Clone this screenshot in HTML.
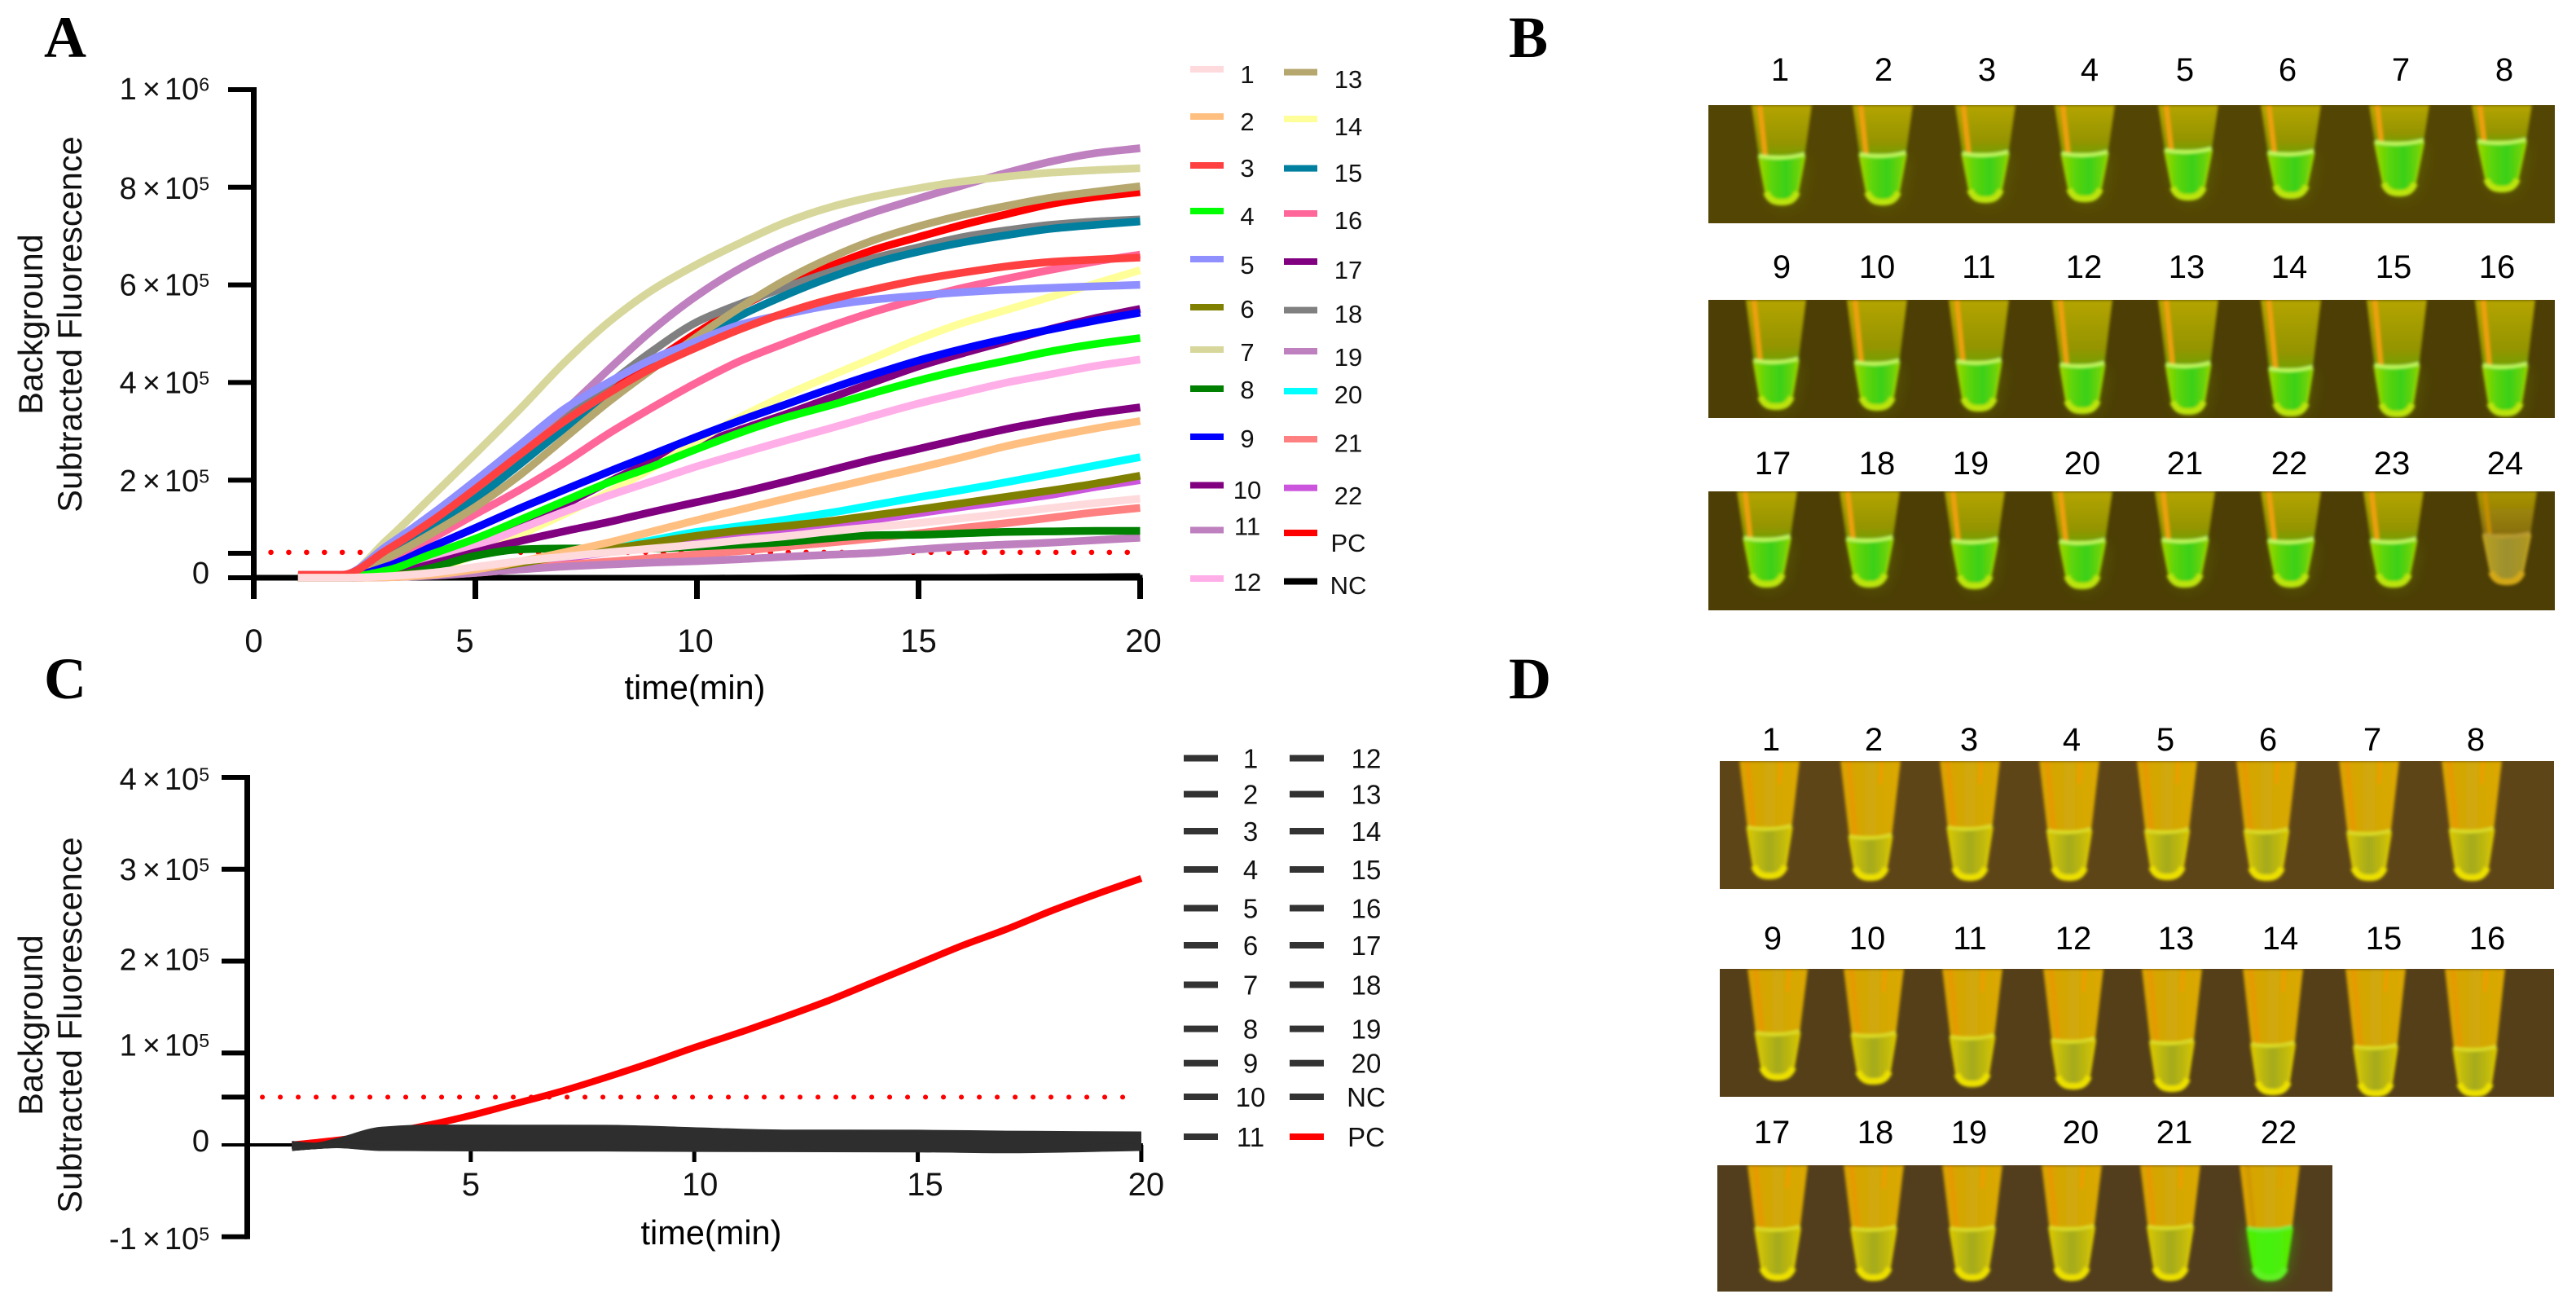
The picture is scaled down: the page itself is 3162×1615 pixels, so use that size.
<!DOCTYPE html>
<html lang="en">
<head>
<meta charset="utf-8">
<title>Fluorescence curves and tube images</title>
<style>
html,body{margin:0;padding:0;background:#fff;}
svg{display:block;font-family:"Liberation Sans",Arial,sans-serif;}
.ltr{font-family:"Liberation Serif","Times New Roman",serif;font-weight:bold;font-size:72px;fill:#000;}
.ttl{font-size:41.5px;fill:#111;text-anchor:middle;}
.tl{font-size:40px;fill:#000;text-anchor:middle;}
.xl{font-size:41.5px;fill:#000;text-anchor:middle;}
</style>
</head>
<body>
<svg id="fig" width="3162" height="1615" viewBox="0 0 3162 1615" xmlns="http://www.w3.org/2000/svg">
<defs>
<filter id="soft" x="-20%" y="-20%" width="140%" height="140%"><feGaussianBlur stdDeviation="1.8"/></filter>
<filter id="glow" x="-60%" y="-60%" width="220%" height="220%"><feGaussianBlur stdDeviation="10"/></filter>
<linearGradient id="liqB" x1="0" x2="1" y1="0" y2="0"><stop offset="0" stop-color="#9cd800"/><stop offset=".28" stop-color="#5cd408"/><stop offset=".6" stop-color="#3ad018"/><stop offset="1" stop-color="#84d400"/></linearGradient>
<linearGradient id="upB" x1="0" x2="0" y1="0" y2="1"><stop offset="0" stop-color="#b4a400"/><stop offset=".75" stop-color="#949400"/><stop offset="1" stop-color="#74a000"/></linearGradient>
<linearGradient id="liqDim" x1="0" x2="1" y1="0" y2="0"><stop offset="0" stop-color="#b8a020"/><stop offset=".5" stop-color="#9c9030"/><stop offset="1" stop-color="#b09820"/></linearGradient>
<linearGradient id="upDim" x1="0" x2="0" y1="0" y2="1"><stop offset="0" stop-color="#a89400"/><stop offset="1" stop-color="#886e10"/></linearGradient>
<linearGradient id="liqD" x1="0" x2="1" y1="0" y2="0"><stop offset="0" stop-color="#d8c800"/><stop offset=".5" stop-color="#a4aa1c"/><stop offset="1" stop-color="#d4c400"/></linearGradient>
<linearGradient id="upD" x1="0" x2="1" y1="0" y2="0"><stop offset="0" stop-color="#dca200"/><stop offset=".5" stop-color="#d0a808"/><stop offset="1" stop-color="#dca800"/></linearGradient>
<linearGradient id="liqG" x1="0" x2="1" y1="0" y2="0"><stop offset="0" stop-color="#50ee00"/><stop offset=".5" stop-color="#44f210"/><stop offset="1" stop-color="#58ea00"/></linearGradient>
</defs>
<rect x="0" y="0" width="3162" height="1615" fill="#fff"/>

<text class="ltr" x="54" y="70">A</text>
<text class="ltr" x="1852" y="70">B</text>
<text class="ltr" x="54" y="857">C</text>
<text class="ltr" x="1852" y="857">D</text>

<g id="chartA"></g>
<text class="ttl" transform="translate(52,398) rotate(-90)">Background</text>
<text class="ttl" transform="translate(100,398) rotate(-90)">Subtracted Fluorescence</text>
<text class="xl" x="853" y="858">time(min)</text>

<g id="chartC"></g>
<text class="ttl" transform="translate(52,1258) rotate(-90)">Background</text>
<text class="ttl" transform="translate(100,1258) rotate(-90)">Subtracted Fluorescence</text>
<text class="xl" x="873" y="1527">time(min)</text>

<g id="tubes"></g>

<g>
<text class="tl" x="2185" y="99">1</text>
<text class="tl" x="2312" y="99">2</text>
<text class="tl" x="2439" y="99">3</text>
<text class="tl" x="2565" y="99">4</text>
<text class="tl" x="2682" y="99">5</text>
<text class="tl" x="2808" y="99">6</text>
<text class="tl" x="2947" y="99">7</text>
<text class="tl" x="3074" y="99">8</text>
<text class="tl" x="2187" y="341">9</text>
<text class="tl" x="2304" y="341">10</text>
<text class="tl" x="2429" y="341">11</text>
<text class="tl" x="2558" y="341">12</text>
<text class="tl" x="2684" y="341">13</text>
<text class="tl" x="2810" y="341">14</text>
<text class="tl" x="2938" y="341">15</text>
<text class="tl" x="3065" y="341">16</text>
<text class="tl" x="2176" y="582">17</text>
<text class="tl" x="2304" y="582">18</text>
<text class="tl" x="2419" y="582">19</text>
<text class="tl" x="2556" y="582">20</text>
<text class="tl" x="2682" y="582">21</text>
<text class="tl" x="2810" y="582">22</text>
<text class="tl" x="2936" y="582">23</text>
<text class="tl" x="3075" y="582">24</text>
</g>
<g>
<text class="tl" x="2174" y="921">1</text>
<text class="tl" x="2300" y="921">2</text>
<text class="tl" x="2417" y="921">3</text>
<text class="tl" x="2543" y="921">4</text>
<text class="tl" x="2658" y="921">5</text>
<text class="tl" x="2784" y="921">6</text>
<text class="tl" x="2912" y="921">7</text>
<text class="tl" x="3039" y="921">8</text>
<text class="tl" x="2176" y="1165">9</text>
<text class="tl" x="2292" y="1165">10</text>
<text class="tl" x="2418" y="1165">11</text>
<text class="tl" x="2545" y="1165">12</text>
<text class="tl" x="2671" y="1165">13</text>
<text class="tl" x="2799" y="1165">14</text>
<text class="tl" x="2926" y="1165">15</text>
<text class="tl" x="3053" y="1165">16</text>
<text class="tl" x="2175" y="1403">17</text>
<text class="tl" x="2302" y="1403">18</text>
<text class="tl" x="2417" y="1403">19</text>
<text class="tl" x="2554" y="1403">20</text>
<text class="tl" x="2669" y="1403">21</text>
<text class="tl" x="2797" y="1403">22</text>
</g>
</svg>

<script>
/* ---------- Chart A data (values in thousands of fluorescence units) ---------- */
const timeA = [1,2,3,4,5,6,7,8,9,10,11,12,13,14,15,16,17,18,19,20];
const a1  = [0,0,3,10,22,34,43,52,60,68,77,85,95,104,112,122,132,143,153,162];
const a2  = [0,0,1,6,17,33,52,72,95,118,140,162,183,204,225,247,270,289,306,321];
const a3  = [6,6,57,115,182,252,320,378,430,472,510,543,570,591,610,625,638,647,652,656];
const a4  = [1,1,15,48,80,118,157,195,228,264,298,328,353,379,404,426,445,464,479,491];
const a5  = [6,6,65,129,199,272,345,400,448,485,519,540,558,570,578,585,590,594,597,600];
const a6  = [1,1,4,10,18,30,45,58,72,86,97,106,116,128,140,153,166,179,193,209];
const a7  = [1,2,77,165,254,345,440,523,590,642,687,728,759,781,798,812,822,830,835,839];
const a8  = [0,0,3,20,45,58,60,60,60,64,68,73,81,87,88,91,94,95,96,96];
const a9  = [1,1,23,63,102,142,180,217,253,289,323,355,387,417,445,469,490,509,527,543];
const a10 = [1,1,6,28,52,75,95,114,135,155,175,197,220,243,264,285,305,322,337,349];
const a11 = [0,0,1,4,10,17,23,27,31,34,38,43,47,51,58,64,68,72,77,82];
const a12 = [1,1,8,35,64,100,135,168,198,228,255,281,306,332,357,379,400,417,434,447];
const a13 = [2,2,40,90,145,210,285,360,428,494,555,610,655,692,720,743,762,779,791,802];
const a14 = [1,1,4,17,47,88,130,175,225,280,330,374,413,451,489,522,549,576,603,630];
const a15 = [2,2,47,102,162,232,305,370,430,487,538,579,615,645,668,687,702,715,723,730];
const a16 = [2,2,35,80,130,180,235,295,349,400,445,481,515,545,571,594,613,631,648,662];
const a17 = [1,1,8,35,65,102,149,196,238,272,304,335,368,401,433,460,485,510,532,551];
const a18 = [2,2,50,120,180,247,323,396,465,524,562,595,626,655,677,698,712,723,730,734];
const a19 = [2,2,45,115,185,258,340,426,508,578,635,680,717,749,777,804,830,853,870,880];
const a20 = [0,0,2,7,17,30,47,60,77,94,106,119,133,149,165,180,196,213,230,247];
const a21 = [0,0,1,5,10,18,26,33,40,48,55,64,72,81,91,102,112,123,134,143];
const a22 = [0,0,2,7,16,27,40,52,62,72,82,94,106,119,132,145,157,170,186,200];
const aPC = [3,3,40,108,175,245,312,379,441,502,556,600,638,672,698,723,745,766,780,790];
const aNC = [0,0,0,0,0,0,0,0,0,0,0.5,0.5,1,1,1.5,1.5,2,2.5,3,3.5];
const namesA = ['1','2','3','4','5','6','7','8','9','10','11','12','13','14','15','16','17','18','19','20','21','22','PC','NC'];
const valuesA = [a1,a2,a3,a4,a5,a6,a7,a8,a9,a10,a11,a12,a13,a14,a15,a16,a17,a18,a19,a20,a21,a22,aPC,aNC];
const colorsA = ['#ffdadd','#ffbf80','#ff4040','#00ff00','#8f8fff','#808000','#d7d79b','#008000','#0000ff','#800080','#bf80bf','#ffaee8','#b5a76e','#ffff99','#007f9f','#ff6699','#800080','#808080','#bf80bf','#00ffff','#ff8080','#cc55dd','#ff0000','#000000'];
const xTicksA = [0,5,10,15,20];
const yTicksA = [0,50,200,400,600,800,1000];
const yLabelsA = [[0,'0'],[200,'2','5'],[400,'4','5'],[600,'6','5'],[800,'8','5'],[1000,'1','6']];
const thresholdA = [52];

/* ---------- Chart C data (values in thousands) ---------- */
const timeC = [1,1.5,2,3,4,6,8,10,12,15,17,20];
const c1  = [1.7,-0.2,4.6,17,19.4,19.3,19.2,16.5,14,13.8,12.8,12];
const c2  = [-4,-2,-0.9,-4,-4.2,-4.5,-4.5,-5,-5.2,-5.5,-6.5,-4];
const c3  = [1,-0.4,4,15,18,18,17,15,13,13,12,11];
const c4  = [0.5,-0.6,3.5,13,16,16,15,14,12,12,11,10];
const c5  = [0,-0.8,3,12,14.5,14,13.5,13,11,11,10,9.5];
const c6  = [-0.5,-1,2.5,10,13,12.5,12,11.5,10,10,9,8.5];
const c7  = [-1,-1.1,2,8,11,11,10.5,10,9,9,8,8];
const c8  = [-1.3,-1.2,1.7,7,9.5,9.5,9,9,8,8,7,7];
const c9  = [-1.6,-1.3,1.4,5.5,8,8,8,7.5,7,7,6,6];
const c10 = [-1.9,-1.4,1.1,4,6.5,6.5,6.5,6.5,6,6,5,5];
const c11 = [-2.2,-1.5,0.8,3,5,5.5,5.5,5,5,5,4,4];
const c12 = [-2.5,-1.6,0.5,2,3.5,4,4,4,3.5,4,3,3];
const c13 = [-2.8,-1.7,0.3,1,2.5,2.5,2.5,2.5,2.5,2.5,2,2];
const c14 = [-3,-1.7,0.1,0,1.5,1.5,1.5,1.5,1.5,1.5,1,1];
const c15 = [-3.2,-1.8,-0.1,-1,0.5,0.5,0.5,0.5,0.5,0.5,0,0];
const c16 = [-3.4,-1.8,-0.3,-1.5,-0.5,-0.5,-0.5,-0.5,-0.5,-0.5,-1,-1];
const c17 = [-3.5,-1.9,-0.4,-2,-1.5,-1.5,-1.5,-1.5,-1.5,-1.5,-2,-1.5];
const c18 = [-3.6,-1.9,-0.5,-2.5,-2,-2.5,-2.5,-2.5,-2.5,-2.5,-3,-2];
const c19 = [-3.7,-1.9,-0.6,-3,-2.5,-3,-3,-3.5,-3.5,-3.5,-4,-2.5];
const c20 = [-3.8,-2,-0.7,-3.3,-3,-3.5,-3.5,-4,-4,-4.5,-5,-3];
const cNC = [-3.9,-2,-0.8,-3.6,-3.6,-4,-4,-4.5,-4.6,-5,-5.7,-3.5];
const valuesC = [c1,c2,c3,c4,c5,c6,c7,c8,c9,c10,c11,c12,c13,c14,c15,c16,c17,c18,c19,c20,cNC];
const timePC = [1,2,3,4,5,6,7,8,9,10,11,12,13,14,15,16,17,18,19,20];
const cPC = [0,5,12,21,32,45,58,73,89,106,122,139,157,177,197,217,235,255,273,290];
const xTicksC = [5,10,15,20];
const yTicksC = [-100,0,52,100,200,300,400];
const yLabelsC = [[-100,'-1','5'],[0,'0'],[100,'1','5'],[200,'2','5'],[300,'3','5'],[400,'4','5']];
const thresholdC = [52];
const namesC = ['1','2','3','4','5','6','7','8','9','10','11','12','13','14','15','16','17','18','19','20','NC','PC'];

/* ---------- helpers ---------- */
const NS = 'http://www.w3.org/2000/svg';
function mk(tag, attrs, parent) {
  const e = document.createElementNS(NS, tag);
  for (const k in attrs) e.setAttribute(k, attrs[k]);
  parent.appendChild(e);
  return e;
}
/* monotone cubic path through the data points */
function linePath(ts, vs, xf, yf) {
  const xs = ts.map(xf), ys = vs.map(yf), n = xs.length;
  const dx = [], m = [], tan = [];
  for (let i = 0; i < n - 1; i++) { dx[i] = xs[i + 1] - xs[i]; m[i] = (ys[i + 1] - ys[i]) / dx[i]; }
  tan[0] = m[0]; tan[n - 1] = m[n - 2];
  for (let i = 1; i < n - 1; i++) {
    tan[i] = m[i - 1] * m[i] <= 0 ? 0 : 2 * m[i - 1] * m[i] / (m[i - 1] + m[i]);
  }
  let d = 'M' + xs[0].toFixed(1) + ' ' + ys[0].toFixed(1);
  for (let i = 0; i < n - 1; i++) {
    const h = dx[i] / 3;
    d += ' C' + (xs[i] + h).toFixed(1) + ' ' + (ys[i] + tan[i] * h).toFixed(1) + ' ' +
         (xs[i + 1] - h).toFixed(1) + ' ' + (ys[i + 1] - tan[i + 1] * h).toFixed(1) + ' ' +
         xs[i + 1].toFixed(1) + ' ' + ys[i + 1].toFixed(1);
  }
  return d;
}
function yTickLabel(parent, x, y, base, sup) {
  const t = mk('text', {x: x, y: y, 'text-anchor': 'end', 'font-size': 38, fill: '#111'}, parent);
  
  
  if (sup === undefined) { t.textContent = base; return; }
  const a = mk('tspan', {}, t); a.textContent = base;
  const b = mk('tspan', {dx: 7}, t); b.textContent = '×';
  const c = mk('tspan', {dx: 5}, t); c.textContent = '10';
  const d = mk('tspan', {dy: -10.5, 'font-size': 23}, t); d.textContent = sup;
}

/* ---------- Chart A ---------- */
(function () {
  const g = document.getElementById('chartA');
  const xA = t => 311.5 + t * 54.4;
  const yA = v => 709 - v * 0.599;

  const th = mk('line', {x1: 332.5, x2: 1385, y1: yA(thresholdA[0]), y2: yA(thresholdA[0]), stroke: '#ff0000', 'stroke-width': 6.5, 'stroke-linecap': 'round', 'stroke-dasharray': '0.1 21.8'}, g);
  
  

  const xAxis = mk('line', {x1: xA(0), x2: xA(20) + 3, y1: 709, y2: 709, stroke: '#000', 'stroke-width': 7}, g);
  
  
  const yAxis = mk('line', {x1: xA(0), x2: xA(0), y1: yA(1000) - 3, y2: 735, stroke: '#000', 'stroke-width': 7}, g);
  
  

  xTicksA.forEach(v => {
    const tk = mk('line', {x1: xA(v), x2: xA(v), y1: 709, y2: 735, stroke: '#000', 'stroke-width': 7}, g);
    
    
  });
  const xLabelNudge = [0, -13, -2, 0, 4];
  xTicksA.forEach((v, i) => {
    const l = mk('text', {x: xA(v) + xLabelNudge[i], y: 800, 'text-anchor': 'middle', 'font-size': 40, fill: '#111'}, g);
    
    
    l.textContent = String(v);
  });
  yTicksA.forEach(v => {
    const tk = mk('line', {x1: 280, x2: xA(0), y1: yA(v), y2: yA(v), stroke: '#000', 'stroke-width': 6}, g);
    
    
  });
  const yLabelNudge = [7, 14, 13, 13, 14, 12];
  yLabelsA.forEach((d, i) => yTickLabel(g, 257, yA(d[0]) + yLabelNudge[i], d[1], d[2]));

  for (let i = valuesA.length - 1; i >= 0; i--) {
    const p = mk('path', {d: linePath(timeA, valuesA[i], xA, yA), fill: 'none', stroke: colorsA[i], 'stroke-width': namesA[i] === 'NC' ? 7 : 9.5, 'stroke-linejoin': 'round'}, g);
    
    
  }

  const swatchRowsA = [85,143,203,259,318,377,429,477,536,595.5,650.5,710, 88.6,146,206.6,262,321,380.6,431,480,539,598.7,654,713.5];
  const labelRowsA  = [91,149,206,265,325,379,432,478,538,601,645.5,714, 97,155,212,270,331,385,438,484,543.6,608,666,718];
  namesA.forEach((n, i) => {
    const col2 = i >= 12;
    const s = mk('rect', {x: col2 ? 1576 : 1461, y: swatchRowsA[i] - 4, width: 41, height: 8, fill: colorsA[i]}, g);
    
    
    const l = mk('text', {x: col2 ? 1655 : 1531, y: labelRowsA[i] + 11, 'text-anchor': 'middle', 'font-size': 31, fill: '#111'}, g);
    
    
    l.textContent = n;
  });
})();

/* ---------- Chart C ---------- */
(function () {
  const g = document.getElementById('chartC');
  const xC = t => 303.5 + t * 54.87;
  const yC = v => 1405 - v * 1.1275;

  const th = mk('line', {x1: 322, x2: 1386, y1: yC(thresholdC[0]), y2: yC(thresholdC[0]), stroke: '#ff0000', 'stroke-width': 6, 'stroke-linecap': 'round', 'stroke-dasharray': '0.1 21.9'}, g);
  
  

  const xAxis = mk('line', {x1: xC(0), x2: xC(20) + 2, y1: 1405, y2: 1405, stroke: '#000', 'stroke-width': 4}, g);
  
  
  const yAxis = mk('line', {x1: xC(0), x2: xC(0), y1: yC(400) - 3, y2: yC(-100) + 3, stroke: '#000', 'stroke-width': 7}, g);
  
  

  xTicksC.forEach(v => {
    const tk = mk('line', {x1: xC(v), x2: xC(v), y1: 1405, y2: 1426, stroke: '#000', 'stroke-width': 5}, g);
    
    
  });
  const xLabelNudgeC = [0, 7, 9, 6];
  xTicksC.forEach((v, i) => {
    const l = mk('text', {x: xC(v) + xLabelNudgeC[i], y: 1467, 'text-anchor': 'middle', 'font-size': 40, fill: '#111'}, g);
    
    
    l.textContent = String(v);
  });
  yTicksC.forEach(v => {
    const tk = mk('line', {x1: 272, x2: xC(0), y1: yC(v), y2: yC(v), stroke: '#000', 'stroke-width': v === 0 ? 4 : 6}, g);
    
    
  });
  const yLabelNudgeC = [15, 8, 3, 11, 13, 15];
  yLabelsC.forEach((d, i) => yTickLabel(g, 257, yC(d[0]) + yLabelNudgeC[i], d[1], d[2]));

  const pc = mk('path', {d: linePath(timePC, cPC, xC, yC), fill: 'none', stroke: '#ff0000', 'stroke-width': 8.5, 'stroke-linejoin': 'round'}, g);
  
  
  valuesC.forEach(vs => {
    const p = mk('path', {d: linePath(timeC, vs, xC, yC), fill: 'none', stroke: '#2e2e2e', 'stroke-width': 6, 'stroke-linejoin': 'round'}, g);
    
    
  });

  const rowsC = [930.5,974.6,1020,1067,1114.5,1160,1208.5,1262.6,1304.7,1346,1395];
  namesC.forEach((n, i) => {
    const col2 = i >= 11;
    const rowY = rowsC[i % 11];
    const s = mk('rect', {x: col2 ? 1583 : 1453, y: rowY - 4, width: 42, height: 8, fill: n === 'PC' ? '#ff0000' : '#333333'}, g);
    
    
    const l = mk('text', {x: col2 ? 1677 : 1535, y: rowY + 12, 'text-anchor': 'middle', 'font-size': 33, fill: '#111'}, g);
    
    
    l.textContent = n;
  });
})();

/* ---------- Tube photographs (illustrative drawings) ---------- */
(function () {
  const root = document.getElementById('tubes');
  const looks = {
    B:   {up: 'url(#upB)',   liq: 'url(#liqB)',   edge: '#9cd800', surf: '#c4fa60', tip: '#bce410', streak: '#f0a010', sw: 6, streak2: null,      halo: '#7ab000'},
    dim: {up: 'url(#upDim)', liq: 'url(#liqDim)', edge: '#c4a420', surf: '#b89a30', tip: '#d4a818', streak: '#c89000', sw: 5, streak2: null,      halo: null},
    D:   {up: 'url(#upD)',   liq: 'url(#liqD)',   edge: '#e0cc00', surf: '#dcdc28', tip: '#ece000', streak: '#e89800', sw: 5, streak2: '#f09c00', halo: null},
    G:   {up: 'url(#upD)',   liq: 'url(#liqG)',   edge: '#58f000', surf: '#70f040', tip: '#60f020', streak: '#d09800', sw: 5, streak2: '#e0a000', halo: '#30d000'}
  };
  function tube(parent, cx, top, surf, tip, kind) {
    const L = looks[kind];
    const hw = y => 37 - (y - top) / (tip - top) * 17;
    const s = hw(surf);
    const holder = mk('g', {}, parent);
    const liquid = 'M' + (cx - s) + ' ' + surf + ' L' + (cx - 20) + ' ' + (tip - 16) + ' Q' + (cx - 17) + ' ' + tip + ' ' + (cx - 6) + ' ' + tip + ' L' + (cx + 6) + ' ' + tip + ' Q' + (cx + 17) + ' ' + tip + ' ' + (cx + 20) + ' ' + (tip - 16) + ' L' + (cx + s) + ' ' + surf + ' Z';
    if (L.halo) {
      const h = mk('path', {d: liquid, fill: L.halo, opacity: kind === 'G' ? 0.55 : 0.22, filter: 'url(#glow)', transform: kind === 'G' ? '' : 'translate(4 4)'}, holder);
      
      
    }
    const g = mk('g', {filter: 'url(#soft)'}, holder);
    
    
    mk('path', {d: 'M' + (cx - 37) + ' ' + top + ' L' + (cx + 37) + ' ' + top + ' L' + (cx + s) + ' ' + surf + ' L' + (cx - s) + ' ' + surf + ' Z', fill: L.up}, g);
    mk('line', {x1: cx - 27, y1: top, x2: cx - s + 8, y2: surf, stroke: L.streak, 'stroke-width': L.sw}, g);
    if (L.streak2) mk('line', {x1: cx + 14, y1: top, x2: cx + 12, y2: top + 28, stroke: L.streak2, 'stroke-width': 4}, g);
    mk('path', {d: liquid, fill: L.liq, stroke: L.edge, 'stroke-width': 2.5}, g);
    mk('path', {d: 'M' + (cx - 19) + ' ' + (tip - 14) + ' Q' + (cx - 14) + ' ' + (tip - 1) + ' ' + cx + ' ' + (tip - 2) + ' Q' + (cx + 14) + ' ' + (tip - 1) + ' ' + (cx + 19) + ' ' + (tip - 14), fill: 'none', stroke: L.tip, 'stroke-width': 8}, g);
    mk('path', {d: 'M' + (cx - s) + ' ' + (surf - 1) + ' Q' + cx + ' ' + (surf + 5) + ' ' + (cx + s) + ' ' + (surf - 3), fill: 'none', stroke: L.surf, 'stroke-width': 4}, g);
  }
  const strips = [
    {x: 2097, y: 129, w: 1039, h: 145, c: '#534504', kind: 'B', cx: [2187,2311,2437,2559,2686,2812,2945,3071], surf: [192,190,189,189,185,188,175,174], tip: [250,250,247,246,244,242,239,234]},
    {x: 2097, y: 368, w: 1039, h: 145, c: '#4c3e05', kind: 'B', cx: [2180,2304,2429,2556,2686,2812,2942,3075], surf: [443,445,444,448,448,453,449,449], tip: [501,502,503,506,507,509,510,509]},
    {x: 2097, y: 603, w: 1039, h: 146, c: '#4c3e05', kind: 'B', cx: [2169,2295,2424,2556,2682,2812,2938,3077], surf: [661,662,664,665,663,664,664,657], tip: [719,719,721,721,719,719,719,716]},
    {x: 2111, y: 934, w: 1024, h: 157, c: '#5e4518', kind: 'D', cx: [2172,2296,2418,2540,2660,2782,2908,3034], surf: [1016,1027,1016,1020,1020,1020,1022,1019], tip: [1077,1079,1079,1079,1078,1079,1079,1079]},
    {x: 2111, y: 1189, w: 1024, h: 157, c: '#543f18', kind: 'D', cx: [2182,2300,2421,2545,2666,2790,2916,3038], surf: [1268,1270,1273,1277,1279,1282,1285,1287], tip: [1324,1329,1332,1335,1338,1342,1344,1344]},
    {x: 2108, y: 1430, w: 755, h: 155, c: '#523e1c', kind: 'D', cx: [2182,2300,2421,2543,2664,2786], surf: [1508,1508,1508,1507,1506,1508], tip: [1570,1570,1570,1570,1570,1570]}
  ];
  strips.forEach((st, si) => {
    const group = mk('g', {}, root);
    
    
    const clipId = 'clip' + si;
    const cp = mk('clipPath', {id: clipId}, group);
    mk('rect', {x: st.x, y: st.y, width: st.w, height: st.h}, cp);
    const bg = mk('rect', {x: st.x, y: st.y, width: st.w, height: st.h, fill: st.c}, group);
    
    
    const inner = mk('g', {'clip-path': 'url(#' + clipId + ')'}, group);
    st.cx.forEach((cx, i) => {
      let kind = st.kind;
      if (si === 2 && i === 7) kind = 'dim';
      if (si === 5 && i === 5) kind = 'G';
      tube(inner, cx, st.y, st.surf[i], st.tip[i], kind);
    });
  });
})();
</script>
</body>
</html>
